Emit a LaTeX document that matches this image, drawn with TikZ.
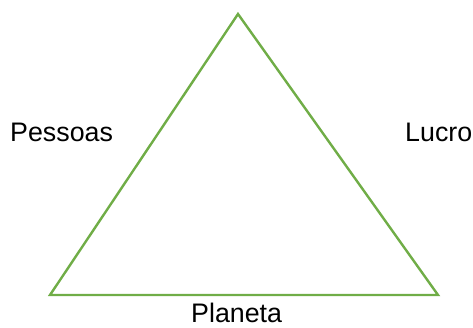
\documentclass[tikz,border=0pt]{standalone}
\usepackage{fontspec}
\setmainfont{Liberation Sans}
\usepackage{tikz}
\usetikzlibrary{positioning}
\definecolor{leafgreen}{RGB}{112,173,71}

\begin{document}
\begin{tikzpicture}[x=1pt, y=1pt,
  side/.style={line width=2.4pt, draw=leafgreen, line join=miter},
  lbl/.style={anchor=base west, inner sep=0pt, text depth=0pt, font=\fontsize{26.8}{31}\selectfont}]
\useasboundingbox (0,0) rectangle (473,327);
\coordinate (top) at (238,313);
\coordinate (left) at (50,32);
\coordinate (right) at (438,32);
\draw[side] (top) -- (left) -- (right) -- cycle;
\node[lbl] (pessoas) at (10,185.5) {Pessoas};
\node[lbl] (lucro) at (405,185.5) {Lucro};
\node[lbl] (planeta) at (191,4.5) {Planeta};
\end{tikzpicture}
\end{document}
